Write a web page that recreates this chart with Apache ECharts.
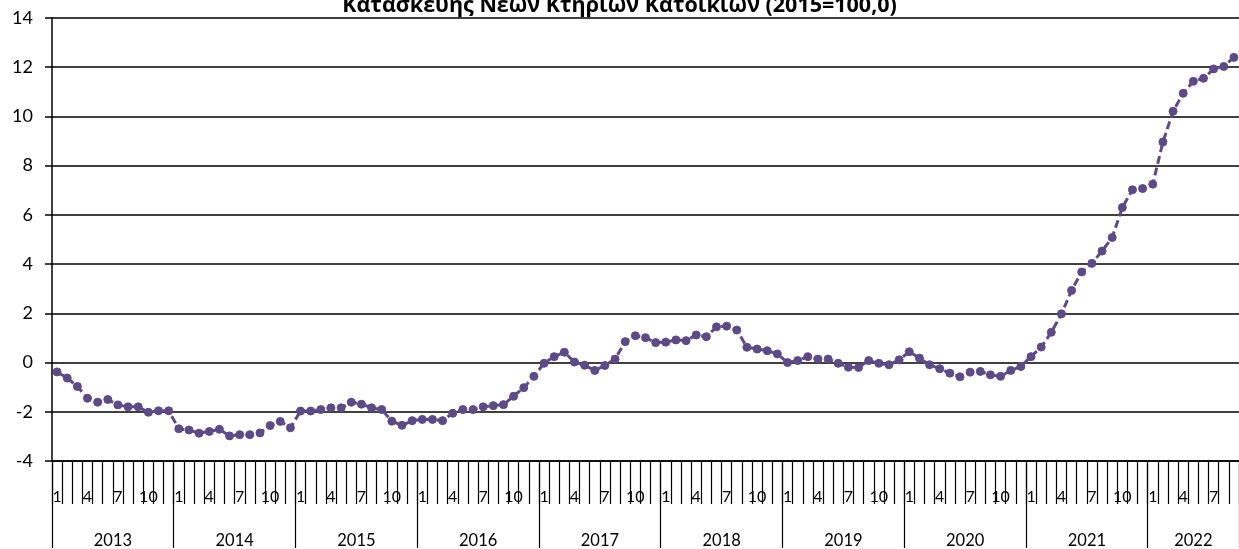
<!DOCTYPE html>
<html>
<head>
<meta charset="utf-8">
<script src="https://cdn.jsdelivr.net/npm/echarts@6/dist/echarts.min.js"></script>
<style>
html,body{margin:0;padding:0;background:#fff;}
#chart{width:1239px;height:549px;}
</style>
</head>
<body>
<div id="chart"></div>
<script>
var titleText = 'Κατασκευής Νέων Κτηρίων Κατοικιών (2015=100,0)';
var years = ['2013','2014','2015','2016','2017','2018','2019','2020','2021','2022'];
var monthTickLabels = ['1','4','7','10'];
var v2013 = [-0.38,-0.63,-0.97,-1.45,-1.61,-1.50,-1.72,-1.80,-1.80,-2.02,-1.96,-1.96];
var v2014 = [-2.69,-2.74,-2.87,-2.80,-2.71,-2.98,-2.93,-2.93,-2.86,-2.56,-2.39,-2.65];
var v2015 = [-1.97,-1.97,-1.91,-1.84,-1.84,-1.61,-1.69,-1.84,-1.91,-2.38,-2.55,-2.36];
var v2016 = [-2.31,-2.31,-2.36,-2.06,-1.91,-1.91,-1.80,-1.75,-1.71,-1.37,-1.02,-0.56];
var v2017 = [-0.03,0.24,0.42,0.02,-0.11,-0.32,-0.12,0.14,0.85,1.09,1.01,0.81];
var v2018 = [0.83,0.92,0.89,1.12,1.05,1.45,1.48,1.32,0.62,0.55,0.48,0.35];
var v2019 = [0.00,0.08,0.24,0.14,0.14,-0.03,-0.19,-0.20,0.08,-0.03,-0.09,0.11];
var v2020 = [0.44,0.18,-0.09,-0.25,-0.43,-0.58,-0.39,-0.36,-0.50,-0.56,-0.32,-0.16];
var v2021 = [0.24,0.63,1.23,1.98,2.93,3.68,4.03,4.53,5.08,6.30,7.02,7.07];
var v2022 = [7.25,8.96,10.21,10.94,11.43,11.55,11.93,12.03,12.40];
var yearValues = [v2013,v2014,v2015,v2016,v2017,v2018,v2019,v2020,v2021,v2022];

var categories = [], values = [];
yearValues.forEach(function(arr, yi){
  arr.forEach(function(v, mi){
    categories.push(years[yi] + '-' + (mi+1));
    values.push(v);
  });
});
function monthOf(c){ return c.split('-')[1]; }
function yearOf(c){ return c.split('-')[0]; }
function yearLen(y){ return yearValues[years.indexOf(y)].length; }
function yearLabelMonth(y){ var n = yearLen(y); return n === 12 ? 7 : Math.ceil(n/2); }

var font = 'Lato, "Open Sans", sans-serif';
var chart = echarts.init(document.getElementById('chart'));
chart.setOption({
  animation:false,
  backgroundColor:'#fff',
  title:{
    text:titleText, left:'center', top:-10,
    textStyle:{fontFamily:'"Open Sans", "Noto Sans", sans-serif', fontWeight:'bold', fontSize:21.5, color:'#000'}
  },
  grid:{left:52, right:0, top:18, bottom:87, containLabel:false},
  xAxis:[{
    type:'category', data:categories, boundaryGap:true, position:'bottom',
    axisLine:{show:true, onZero:false, lineStyle:{color:'#000', width:1.5}},
    axisTick:{show:true, interval:0, length:43, lineStyle:{color:'#000', width:1.2}},
    axisLabel:{
      interval:function(i, c){ return monthTickLabels.indexOf(monthOf(c)) >= 0; },
      formatter:function(c){ return monthOf(c); },
      margin:28, fontFamily:font, fontSize:16, color:'#000'
    },
    splitLine:{show:false}
  },{
    type:'category', data:categories, boundaryGap:true, position:'bottom', offset:0,
    axisLine:{show:false, onZero:false},
    axisTick:{show:true, length:87, interval:function(i, c){ return monthOf(c) === '1'; }, lineStyle:{color:'#000', width:1.2}},
    axisLabel:{
      interval:function(i, c){ return +monthOf(c) === yearLabelMonth(yearOf(c)); },
      formatter:function(c){ var y = yearOf(c); return yearLen(y) === 12 ? '{a|' + y + '}' : '{b|' + y + '}'; },
      rich:{a:{padding:[0,10,0,0], fontFamily:font, fontSize:16.5, color:'#000'}, b:{fontFamily:font, fontSize:16.5, color:'#000'}},
      margin:71, fontFamily:font, fontSize:16.5, color:'#000'
    },
    splitLine:{show:false}
  }],
  yAxis:{
    type:'value', min:-4, max:14, interval:2,
    axisLine:{show:true, onZero:false, lineStyle:{color:'#000', width:1.5}},
    axisTick:{show:true, length:7, lineStyle:{color:'#000', width:1.5}},
    axisLabel:{margin:19, fontFamily:font, fontSize:18, color:'#000'},
    splitLine:{show:true, lineStyle:{color:'#000', width:1.5}}
  },
  series:[{
    type:'line', data:values, xAxisIndex:0,
    symbol:'circle', symbolSize:8, showAllSymbol:true,
    lineStyle:{color:'#5E4A84', width:3, type:[8,4]},
    itemStyle:{color:'#5E4A84', borderColor:'#5E4A84', borderWidth:1}
  }]
});
</script>
</body>
</html>
